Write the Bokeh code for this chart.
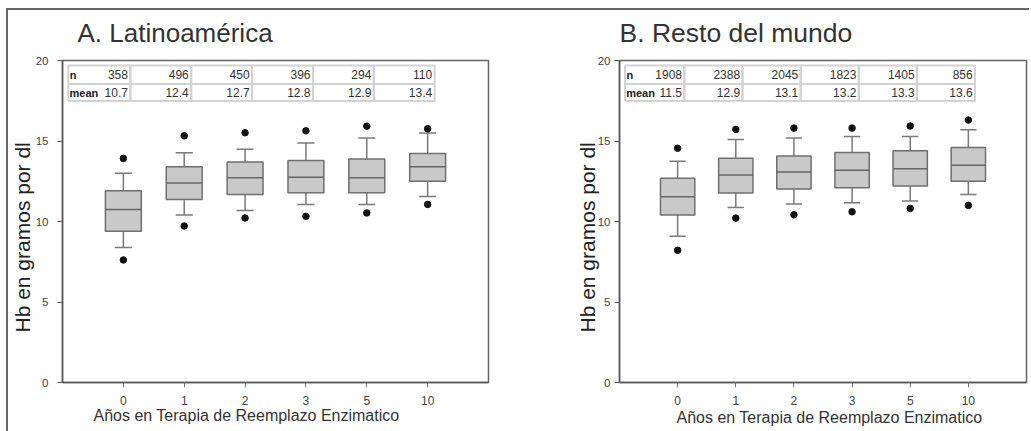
from bokeh.plotting import figure
from bokeh.layouts import row
from bokeh.models import Range1d, FixedTicker, Title, ColumnDataSource
from bokeh.core.properties import value
from bokeh.embed import file_html
from bokeh.resources import INLINE

FONT = "Liberation Sans"

cats = ["0", "1", "2", "3", "5", "10"]

# A. Latinoamérica
n_la = [358, 496, 450, 396, 294, 110]
mean_la = [10.7, 12.4, 12.7, 12.8, 12.9, 13.4]
q1_la = [9.40, 11.37, 11.68, 11.79, 11.79, 12.50]
med_la = [10.74, 12.39, 12.71, 12.75, 12.71, 13.40]
q3_la = [11.91, 13.40, 13.69, 13.79, 13.88, 14.23]
wlo_la = [8.38, 10.41, 10.68, 11.06, 11.06, 11.56]
whi_la = [13.00, 14.27, 14.48, 14.88, 15.19, 15.49]
olo_la = [7.61, 9.72, 10.22, 10.32, 10.53, 11.06]
ohi_la = [13.92, 15.32, 15.51, 15.63, 15.92, 15.76]

# B. Resto del mundo
n_rm = [1908, 2388, 2045, 1823, 1405, 856]
mean_rm = [11.5, 12.9, 13.1, 13.2, 13.3, 13.6]
q1_rm = [10.40, 11.77, 12.02, 12.10, 12.20, 12.50]
med_rm = [11.54, 12.89, 13.08, 13.18, 13.28, 13.49]
q3_rm = [12.68, 13.93, 14.07, 14.28, 14.39, 14.59]
wlo_rm = [9.09, 10.87, 11.08, 11.16, 11.27, 11.68]
whi_rm = [13.74, 15.09, 15.18, 15.28, 15.28, 15.70]
olo_rm = [8.21, 10.21, 10.42, 10.60, 10.81, 11.00]
ohi_rm = [14.55, 15.72, 15.80, 15.80, 15.93, 16.30]

y_ticks = [0, 5, 10, 15, 20]
x_label = "Años en Terapia de Reemplazo Enzimatico"
y_label = "Hb en gramos por dl"


def make_panel(title, n, mean, q1, med, q3, wlo, whi, olo, ohi, width, height,
               mb_left, mb_right, mb_top, mb_bottom, title_offset, title_standoff, title_size,
               xl_offset, xl_standoff, yl_offset, yl_standoff, tick_standoff):
    p = figure(width=width, height=height, output_backend="svg", toolbar_location=None,
               x_range=Range1d(-1, 6), y_range=Range1d(0, 20),
               min_border_left=mb_left, min_border_right=mb_right,
               min_border_top=mb_top, min_border_bottom=mb_bottom)
    p.background_fill_color = "white"
    p.border_fill_color = "white"
    p.outline_line_color = "#666666"
    p.outline_line_width = 1.5
    p.grid.visible = False

    # small spacer between frame and title
    p.add_layout(Title(text=" ", text_font=FONT, text_font_size="7.5px", standoff=0), "above")

    p.title.text = title
    p.title.align = "left"
    p.title.offset = title_offset
    p.title.standoff = title_standoff
    p.title.text_font = FONT
    p.title.text_font_size = title_size
    p.title.text_font_style = "normal"
    p.title.text_color = "#333333"

    xs = list(range(len(cats)))
    xa = p.xaxis[0]
    xa.ticker = FixedTicker(ticks=xs)
    xa.major_label_overrides = {i: c for i, c in zip(xs, cats)}
    xa.minor_tick_line_color = None
    xa.major_tick_out = 5
    xa.major_tick_in = 0
    xa.major_label_standoff = 8
    xa.axis_line_color = "#555555"
    xa.axis_line_width = 1.5
    xa.major_tick_line_color = "#777777"
    xa.major_label_text_font = FONT
    xa.major_label_text_font_size = "12px"
    xa.major_label_text_color = "#444444"

    ya = p.yaxis[0]
    ya.ticker = FixedTicker(ticks=y_ticks)
    ya.minor_tick_line_color = None
    ya.major_tick_out = 5
    ya.major_tick_in = 0
    ya.major_label_standoff = tick_standoff
    ya.axis_line_color = "#555555"
    ya.axis_line_width = 1.5
    ya.major_tick_line_color = "#555555"
    ya.major_label_text_font = FONT
    ya.major_label_text_font_size = "11.5px"
    ya.major_label_text_color = "#444444"

    p.add_layout(Title(text=x_label, align="left", offset=xl_offset, standoff=xl_standoff,
                       text_font=FONT, text_font_size="16px", text_font_style="normal",
                       text_color="#333333"), "below")
    p.add_layout(Title(text=y_label, align="left", offset=yl_offset, standoff=yl_standoff,
                       text_font=FONT, text_font_size="21px", text_font_style="normal",
                       text_color="#222222"), "left")

    src = ColumnDataSource(dict(x=xs, q1=q1, med=med, q3=q3, wlo=wlo, whi=whi,
                                olo=olo, ohi=ohi,
                                cl=[x - 0.14 for x in xs], cr=[x + 0.14 for x in xs],
                                bl=[x - 0.295 for x in xs], br=[x + 0.295 for x in xs]))
    wc = "#7a7a7a"
    # whiskers
    p.segment(x0="x", y0="q3", x1="x", y1="whi", source=src, line_color=wc, line_width=1.5)
    p.segment(x0="x", y0="q1", x1="x", y1="wlo", source=src, line_color=wc, line_width=1.5)
    p.segment(x0="cl", y0="whi", x1="cr", y1="whi", source=src, line_color=wc, line_width=1.5)
    p.segment(x0="cl", y0="wlo", x1="cr", y1="wlo", source=src, line_color=wc, line_width=1.5)
    # boxes
    p.vbar(x="x", width=0.59, bottom="q1", top="q3", source=src,
           fill_color="#c9c9c9", line_color="#6f6f6f", line_width=1.5)
    p.segment(x0="bl", y0="med", x1="br", y1="med", source=src, line_color="#666666", line_width=1.5)
    # outliers
    p.scatter(x="x", y="olo", source=src, size=6.5, fill_color="#111111", line_color="#111111")
    p.scatter(x="x", y="ohi", source=src, size=6.5, fill_color="#111111", line_color="#111111")

    # table of n and mean
    t_top, t_mid, t_bot = 19.69, 18.54, 17.48
    lefts = [-0.905] + [x + 0.115 for x in xs[:-1]]
    rights = [x + 0.115 for x in xs]
    p.quad(left=lefts + lefts, right=rights + rights,
           top=[t_top] * len(xs) + [t_mid] * len(xs),
           bottom=[t_mid] * len(xs) + [t_bot] * len(xs),
           fill_color=None, line_color="#d2d2d2", line_width=2)
    yc1 = (t_top + t_mid) / 2
    yc2 = (t_mid + t_bot) / 2
    vals = [str(v) for v in n] + [f"{v:.1f}" for v in mean]
    p.text(x=[r - 0.04 for r in rights] * 2, y=[yc1] * len(xs) + [yc2] * len(xs), text=vals,
           text_align="right", text_baseline="middle", text_font=value(FONT),
           text_font_size="12px", text_color="#333333")
    p.text(x=[-0.88, -0.885], y=[yc1, yc2], text=["n", "mean"],
           text_align="left", text_baseline="middle", text_font=value(FONT),
           text_font_size="11px", text_font_style="bold", text_color="#222222")
    return p


p1 = make_panel("A. Latinoamérica", n_la, mean_la, q1_la, med_la, q3_la, wlo_la, whi_la,
                olo_la, ohi_la, width=510, height=421,
                mb_left=54, mb_right=30, mb_top=50, mb_bottom=49,
                title_offset=15, title_standoff=4, title_size="26px",
                xl_offset=31, xl_standoff=-6, yl_offset=50, yl_standoff=-2, tick_standoff=9)
p2 = make_panel("B. Resto del mundo", n_rm, mean_rm, q1_rm, med_rm, q3_rm, wlo_rm, whi_rm,
                olo_rm, ohi_rm, width=511, height=421,
                mb_left=101, mb_right=3, mb_top=50, mb_bottom=49,
                title_offset=0, title_standoff=4, title_size="26.5px",
                xl_offset=57, xl_standoff=-2, yl_offset=50, yl_standoff=-8, tick_standoff=4)

lay = row(p1, p2, styles={"border-top": "2px solid #666666",
                          "border-left": "2px solid #666666",
                          "margin-top": "8px", "margin-left": "6px"})

open("out.html", "w").write(file_html(lay, INLINE))
